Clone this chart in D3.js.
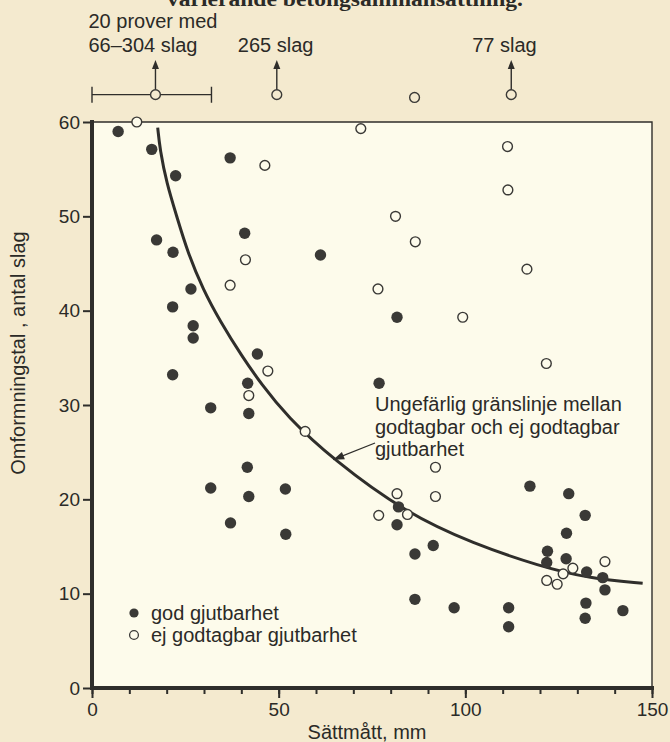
<!DOCTYPE html>
<html>
<head>
<meta charset="utf-8">
<script src="https://cdn.jsdelivr.net/npm/d3@7"></script>
<style>
  html, body { margin: 0; padding: 0; background: #f4eacf; }
  svg { display: block; }
  text { font-family: "Liberation Sans", Arial, Helvetica, sans-serif; fill: #2b2a27; }
</style>
</head>
<body>
<svg id="chart" width="670" height="742"></svg>
<script>
// god gjutbarhet (filled)  [sättmått mm, omformningstal]
var goodPoints = [
  [7, 59], [16, 57.1], [37, 56.2], [22.4, 54.3], [40.9, 48.2], [17.3, 47.5],
  [21.7, 46.2], [26.5, 42.3], [21.6, 40.4], [27.1, 38.4], [27.1, 37.1],
  [44.3, 35.4], [21.6, 33.2], [41.7, 32.3], [31.8, 29.7], [42.0, 29.1],
  [41.6, 23.4], [31.8, 21.2], [42.0, 20.3], [51.8, 21.1], [37.1, 17.5],
  [51.9, 16.3], [61.2, 45.9], [81.7, 39.3], [76.9, 32.3], [82.1, 19.2],
  [81.7, 17.3], [91.4, 15.1], [86.5, 14.2], [86.5, 9.4], [97.0, 8.5],
  [111.6, 8.5], [111.6, 6.5], [117.3, 21.4], [127.7, 20.6], [132.1, 18.3],
  [127.1, 16.4], [122.0, 14.5], [121.8, 13.3], [127.0, 13.7], [132.5, 12.3],
  [136.8, 11.7], [137.4, 10.4], [132.3, 9.0], [132.1, 7.4], [142.2, 8.2]
];

// ej godtagbar gjutbarhet (open)
var poorPoints = [
  [12, 60], [46.3, 55.4], [41.1, 45.4], [37.0, 42.7], [47.1, 33.6], [42.0, 31.0],
  [57.1, 27.2], [72.0, 59.3], [111.3, 57.4], [111.4, 52.8], [81.3, 50.0],
  [86.6, 47.3], [116.5, 44.4], [76.6, 42.3], [99.3, 39.3], [121.7, 34.4],
  [92.0, 23.4], [81.7, 20.6], [92.0, 20.3], [76.8, 18.3], [84.5, 18.4],
  [128.8, 12.7], [126.2, 12.1], [121.8, 11.4], [124.6, 11.0], [137.4, 13.4]
];

// values above the scale, drawn in a row over the frame
var offscalePoints = [
  { x: 17, y: 62.9, arrow: true, label: ["20 prover med", "66\u2013304 slag"], range: [0, 32] },
  { x: 49.5, y: 62.9, arrow: true, label: ["265 slag"] },
  { x: 86.4, y: 62.6, arrow: false, label: [] },
  { x: 112.3, y: 62.9, arrow: true, label: ["77 slag"] }
];

// approximate boundary line
var boundaryPoints = [
  [17.6, 59.4], [18.2, 57.1], [20.0, 53.5], [22.7, 50.0], [25.6, 46.2],
  [29.8, 42.2], [34.3, 38.9], [40.1, 35.2], [45.4, 32.2], [52.2, 28.8],
  [64.6, 24.2], [84.3, 18.5], [102.1, 15.3], [120, 12.9], [133.4, 11.6],
  [147.5, 11.1]
];

var xMajorTicks = [0, 50, 100, 150];
var xMinorTicks = d3.range(0, 151, 10);
var yTicks = [0, 10, 20, 30, 40, 50, 60];

var svg = d3.select('#chart');
var ink = '#2f2e2b';

var x = d3.scaleLinear().domain([0, 150]).range([92, 652]);
var y = d3.scaleLinear().domain([0, 60]).range([688, 122]);

// backgrounds
svg.append('rect').attr('width', 670).attr('height', 742).attr('fill', '#f4eacf');
svg.append('rect')
  .attr('x', x(0)).attr('y', y(60))
  .attr('width', x(150) - x(0)).attr('height', y(0) - y(60))
  .attr('fill', '#fdfbeb');

// cut-off title line at the very top
svg.append('text')
  .attr('x', 167).attr('y', 6)
  .attr('textLength', 356).attr('lengthAdjust', 'spacingAndGlyphs')
  .style('font-family', '"Liberation Serif", "DejaVu Serif", serif')
  .style('font-weight', 'bold').style('font-size', '20px')
  .text('varierande betongsammansättning.');

// frame (thin top and right)
svg.append('path')
  .attr('d', 'M' + x(0) + ',' + y(60) + 'H' + x(150) + 'V' + y(0))
  .attr('fill', 'none').attr('stroke', ink).attr('stroke-width', 1.4);

// axes
var xMinor = svg.append('g').attr('transform', 'translate(0,' + y(0) + ')')
  .call(d3.axisBottom(x).tickValues(xMinorTicks).tickSize(6).tickFormat(''));
var xAxis = svg.append('g').attr('transform', 'translate(0,' + y(0) + ')')
  .call(d3.axisBottom(x).tickValues(xMajorTicks).tickSize(10).tickPadding(5));
var yAxis = svg.append('g').attr('transform', 'translate(' + x(0) + ',0)')
  .call(d3.axisLeft(y).tickValues(yTicks).tickSize(9).tickPadding(3));

[xMinor, xAxis, yAxis].forEach(function (g) {
  g.select('.domain').remove();
  g.selectAll('line').attr('stroke', ink).attr('stroke-width', 2);
  g.selectAll('text').style('font-size', '19px').attr('fill', ink)
    .style('font-family', '"Liberation Sans", Arial, sans-serif');
});

// thick axis lines
svg.append('path')
  .attr('d', 'M' + x(0) + ',' + y(60) + 'V' + y(0) + 'H' + x(150))
  .attr('fill', 'none').attr('stroke', ink).attr('stroke-width', 4)
  .attr('stroke-linecap', 'square');

// axis titles
svg.append('text')
  .attr('x', (x(0) + x(150)) / 2 - 5).attr('y', 739)
  .attr('text-anchor', 'middle').style('font-size', '20px')
  .text('Sättmått, mm');
svg.append('text')
  .attr('transform', 'translate(25,353) rotate(-90)')
  .attr('text-anchor', 'middle').style('font-size', '20px')
  .text('Omformningstal , antal slag');

// boundary curve
svg.append('path')
  .datum(boundaryPoints)
  .attr('d', d3.line().x(function (d) { return x(d[0]); }).y(function (d) { return y(d[1]); }).curve(d3.curveBasis))
  .attr('fill', 'none').attr('stroke', ink).attr('stroke-width', 3);

// annotation arrow + text
var tip = [x(64.6), y(24.2)];
var tail = [375, 443];
var ang = Math.atan2(tip[1] - tail[1], tip[0] - tail[0]);
svg.append('line')
  .attr('x1', tail[0]).attr('y1', tail[1]).attr('x2', tip[0]).attr('y2', tip[1])
  .attr('stroke', ink).attr('stroke-width', 1.3);
svg.append('path')
  .attr('d', d3.line()([
    tip,
    [tip[0] - 11 * Math.cos(ang) + 4 * Math.sin(ang), tip[1] - 11 * Math.sin(ang) - 4 * Math.cos(ang)],
    [tip[0] - 11 * Math.cos(ang) - 4 * Math.sin(ang), tip[1] - 11 * Math.sin(ang) + 4 * Math.cos(ang)]
  ]) + 'Z')
  .attr('fill', ink);
var note = svg.append('text').style('font-size', '20px');
['Ungefärlig gränslinje mellan', 'godtagbar och ej godtagbar', 'gjutbarhet'].forEach(function (t, i) {
  note.append('tspan').attr('x', 375).attr('y', 411 + i * 22.5).text(t);
});

// points
svg.append('g').selectAll('circle').data(goodPoints).join('circle')
  .attr('cx', function (d) { return x(d[0]); })
  .attr('cy', function (d) { return y(d[1]); })
  .attr('r', 5.7).attr('fill', '#3a3936');

svg.append('g').selectAll('circle').data(poorPoints).join('circle')
  .attr('cx', function (d) { return x(d[0]); })
  .attr('cy', function (d) { return y(d[1]); })
  .attr('r', 4.9).attr('fill', '#fdfbeb').attr('stroke', '#3a3936').attr('stroke-width', 1.4);

// off-scale row above the frame
var overRow = svg.append('g');
offscalePoints.forEach(function (p) {
  var cx = x(p.x), cy = y(p.y);
  if (p.range) {
    overRow.append('path')
      .attr('d', 'M' + x(p.range[0]) + ',' + cy + 'H' + x(p.range[1]) +
        'M' + x(p.range[0]) + ',' + (cy - 8) + 'V' + (cy + 8) +
        'M' + x(p.range[1]) + ',' + (cy - 8) + 'V' + (cy + 8))
      .attr('fill', 'none').attr('stroke', ink).attr('stroke-width', 1.4);
  }
  if (p.arrow) {
    overRow.append('line')
      .attr('x1', cx).attr('y1', cy - 5).attr('x2', cx).attr('y2', 66)
      .attr('stroke', ink).attr('stroke-width', 1.4);
    overRow.append('path')
      .attr('d', 'M' + cx + ',60L' + (cx - 3.5) + ',69L' + (cx + 3.5) + ',69Z')
      .attr('fill', ink);
  }
  overRow.append('circle').attr('cx', cx).attr('cy', cy).attr('r', 4.9)
    .attr('fill', '#f4eacf').attr('stroke', '#3a3936').attr('stroke-width', 1.4);
  p.label.forEach(function (t, i, arr) {
    overRow.append('text')
      .attr('x', cx - (p.range ? 67 : 39))
      .attr('y', 52 - (arr.length - 1 - i) * 24)
      .style('font-size', '20px')
      .text(t);
  });
});

// legend
var legend = svg.append('g');
legend.append('circle').attr('cx', 134).attr('cy', 613).attr('r', 4.6).attr('fill', '#3a3936');
legend.append('circle').attr('cx', 134).attr('cy', 635).attr('r', 4.4)
  .attr('fill', '#fdfbeb').attr('stroke', '#3a3936').attr('stroke-width', 1.3);
legend.append('text').attr('x', 151).attr('y', 620).style('font-size', '20px').text('god gjutbarhet');
legend.append('text').attr('x', 151).attr('y', 642).style('font-size', '20px').text('ej godtagbar gjutbarhet');
</script>
</body>
</html>
